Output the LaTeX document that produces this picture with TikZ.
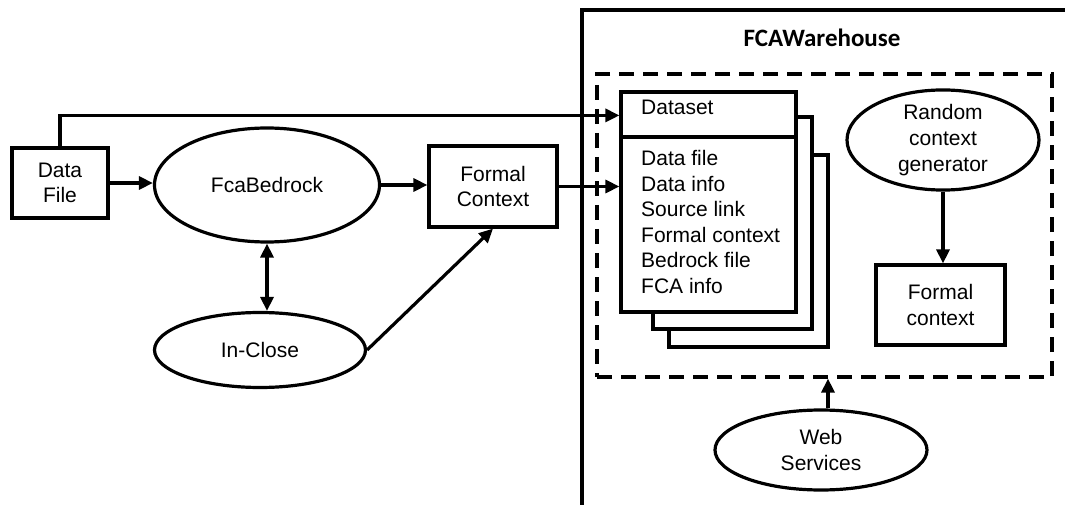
\documentclass[tikz,border=0pt]{standalone}
\usepackage{fontspec}
\setmainfont{Liberation Sans}
\newfontfamily\whfont{Carlito}
\usetikzlibrary{arrows.meta,shapes.geometric,positioning}

\tikzset{
    box/.style={draw, line width=3.2pt, align=center, inner sep=0pt, fill=white},
    oval/.style={draw, ellipse, line width=3.2pt, align=center, inner sep=0pt},
    arr/.style={line width=3.2pt, -{Triangle[length=14pt,width=13pt]}},
    dbl/.style={line width=3.2pt, {Triangle[length=14pt,width=13pt]}-{Triangle[length=14pt,width=13pt]}},
}

\begin{document}
\begin{tikzpicture}[x=1pt, y=-1pt, font=\fontsize{21}{25.6}\selectfont]
        \useasboundingbox (0,0) rectangle (1065,505);

        % warehouse frame
        \draw [line width=3.2pt] (582,505) -- (582,10) -- (1065,10);
        \node (whtitle) at (822,38) {\whfont\bfseries\fontsize{25}{30}\selectfont FCAWarehouse};
        \node [draw, line width=3.2pt, dash pattern=on 15pt off 9pt, minimum width=455pt, minimum height=303pt, inner sep=0pt] (wh) at (824.5,225.5) {};

        % left side
        \node [box, minimum width=96pt, minimum height=70pt] (df) at (60,183) {Data\\File};
        \node [oval, minimum width=225pt, minimum height=114pt] (fb) at (267,185) {FcaBedrock};
        \node [oval, minimum width=211pt, minimum height=75pt] (ic) at (260,350) {In-Close};
        \node [box, minimum width=128pt, minimum height=81pt] (fc) at (493,186.5) {Formal\\Context};

        % dataset stack
        \draw [line width=3.2pt, fill=white] (669,155) rectangle (828,347);
        \draw [line width=3.2pt, fill=white] (653,117) rectangle (812,329);
        \node [box, minimum width=175pt, minimum height=220pt] (ds) at (708.5,202) {};
        \draw [line width=3.2pt] (ds.west |- 0,137) -- (ds.east |- 0,137);
        \node [anchor=west, inner sep=0pt] (dstitle) at (641,107) {Dataset};
        \foreach \t [count=\i] in {Data file, Data info, Source link, Formal context, Bedrock file, FCA info} {
            \node [anchor=west, inner sep=0pt] (ds\i) at (641,{132.4+25.6*\i}) {\t};
        }

        % right side
        \node [oval, minimum width=192pt, minimum height=95pt] (rg) at (943,140) {Random\\context\\generator};
        \node [box, minimum width=129pt, minimum height=80pt] (fc2) at (940.5,305) {Formal\\context};
        \node [oval, minimum width=212pt, minimum height=80pt] (ws) at (821,450) {Web\\Services};

        % connectors
        \draw [arr] (df.north) |- ([yshift=-25pt]ds.north west);
        \draw [arr] (df.east) -- (df.east -| fb.west);
        \draw [arr] (fb.east) -- (fb.east -| fc.west);
        \draw [dbl] (fb.south) -- (fb.south |- ic.north);
        \draw [arr] (ic.east) -- (fc.south);
        \draw [arr] (fc.east) -- (fc.east -| ds.west);
        \draw [arr] (rg.south) -- (rg.south |- fc2.north);
        \draw [arr] ([xshift=7pt]ws.north) -- ([xshift=7pt]ws.north |- wh.south);
\end{tikzpicture}
\end{document}
